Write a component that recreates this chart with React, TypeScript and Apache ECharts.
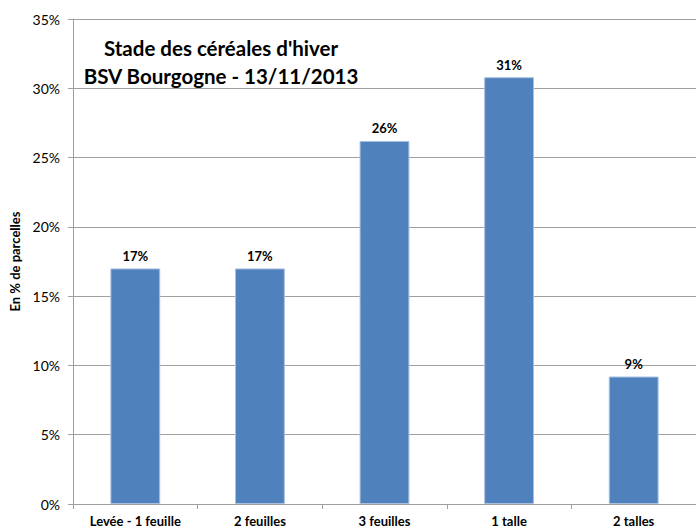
import React, { useEffect, useRef } from "react";
import * as echarts from "echarts";

const categories = ["Levée - 1 feuille", "2 feuilles", "3 feuilles", "1 talle", "2 talles"];
const values = [17.0, 17.0, 26.2, 30.8, 9.2];
const valueLabels = ["17%", "17%", "26%", "31%", "9%"];
const titleLines = ["Stade des céréales d'hiver", "BSV Bourgogne - 13/11/2013"];
const yAxisName = "En % de parcelles";

export default function App() {
  const ref = useRef<HTMLDivElement>(null);
  useEffect(() => {
    if (!ref.current) return;
    const chart = echarts.init(ref.current, null, { renderer: "svg" });
    const font = "Lato, 'Open Sans', sans-serif";
    chart.setOption({
      animation: false,
      backgroundColor: "#ffffff",
      textStyle: { fontFamily: font },
      title: {
        text: titleLines.join("\n"),
        left: 216,
        top: 29,
        textAlign: "center",
        textStyle: { fontFamily: font, fontSize: 20.5, fontWeight: "bold", color: "#000", lineHeight: 28 },
      },
      grid: { left: 70, right: -7, top: 19, bottom: 26, containLabel: false },
      xAxis: {
        type: "category",
        data: categories,
        axisLine: { lineStyle: { color: "#a0a0a0", width: 1 } },
        axisTick: { show: true, length: 5, alignWithLabel: false, lineStyle: { color: "#a0a0a0" } },
        axisLabel: { color: "#000", fontSize: 13, fontWeight: "bold", margin: 10, fontFamily: font },
        splitLine: { show: false },
      },
      yAxis: {
        type: "value",
        min: 0,
        max: 35,
        interval: 5,
        name: yAxisName,
        nameLocation: "middle",
        nameGap: 52,
        nameRotate: 90,
        nameTextStyle: { color: "#000", fontSize: 13, fontWeight: "bold", fontFamily: font },
        axisLine: { show: true, lineStyle: { color: "#a0a0a0" } },
        axisTick: { show: true, length: 5, lineStyle: { color: "#a0a0a0" } },
        axisLabel: { color: "#000", fontSize: 14, margin: 13, formatter: "{value}%", fontFamily: font },
        splitLine: { show: true, lineStyle: { color: "#a0a0a0", width: 1 } },
      },
      series: [
        {
          type: "bar",
          data: values,
          barWidth: "40%",
          itemStyle: { color: "#4f81bd", borderColor: "#a9c1df", borderWidth: 1 },
          label: {
            show: true,
            position: "top",
            distance: 6,
            color: "#000",
            fontSize: 13,
            fontWeight: "bold",
            fontFamily: font,
            formatter: (p: any) => valueLabels[p.dataIndex],
          },
        },
      ],
    });
    return () => chart.dispose();
  }, []);
  return (
    <div
      ref={ref}
      style={{ position: "fixed", left: 0, top: 0, width: 696, height: 530 }}
    />
  );
}
